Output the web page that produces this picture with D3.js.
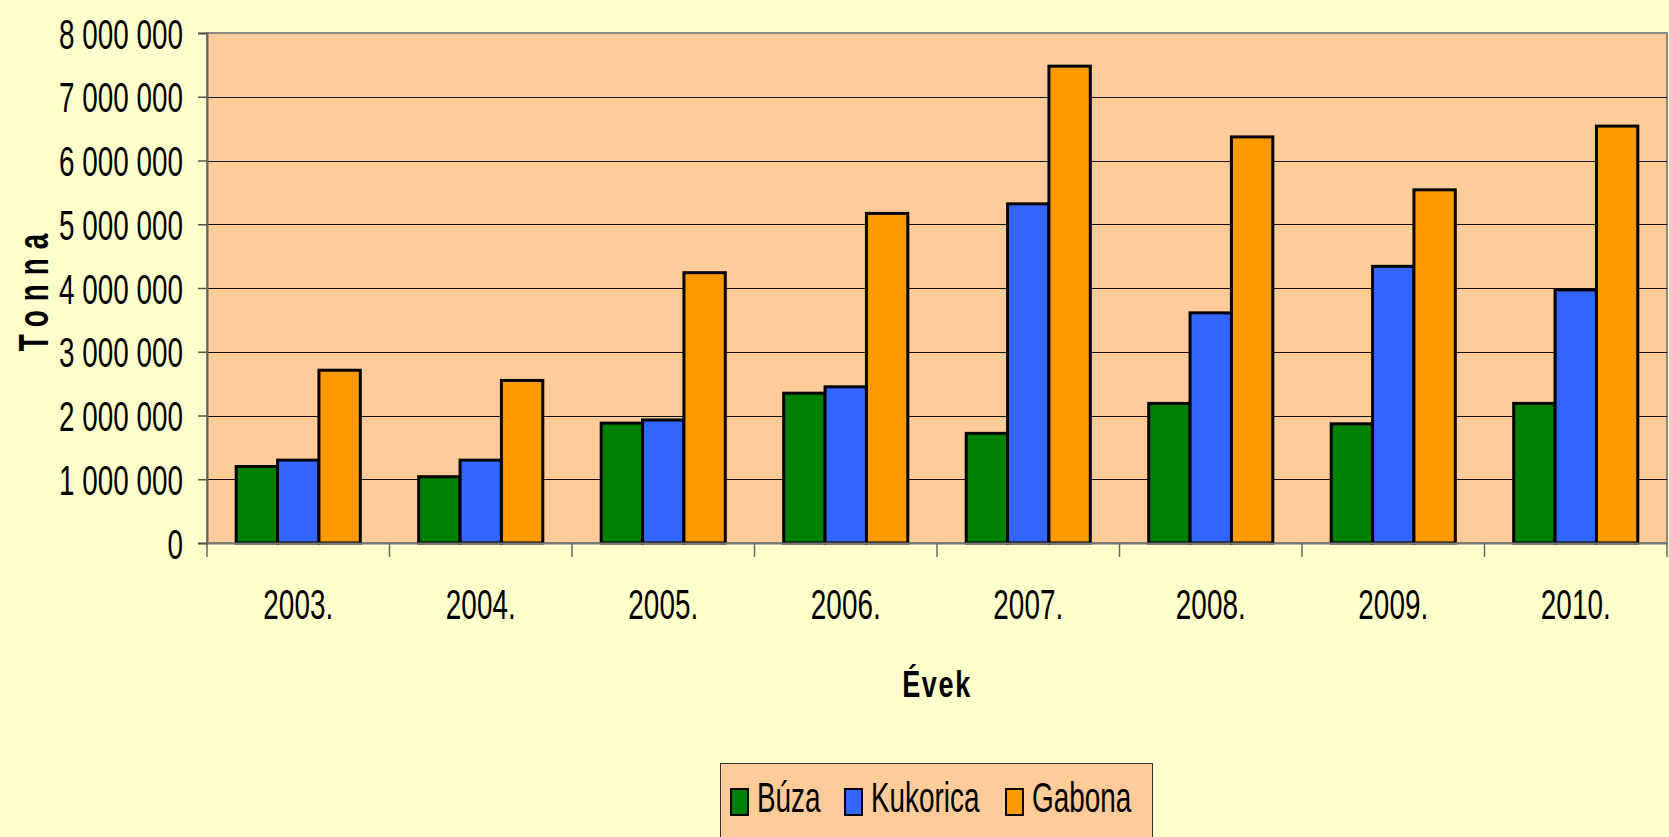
<!DOCTYPE html>
<html>
<head>
<meta charset="utf-8">
<script src="https://cdn.jsdelivr.net/npm/d3@7"></script>
<style>
  html, body { margin: 0; padding: 0; background: #FFFFCC; }
  svg { display: block; }
  text { font-family: "Liberation Sans Narrow", "Arial Narrow", "Liberation Sans", sans-serif; fill: #000; }
</style>
</head>
<body>
<svg width="1669" height="837"></svg>
<script>
// Chart data (tonnes)
const years = ['2003.', '2004.', '2005.', '2006.', '2007.', '2008.', '2009.', '2010.'];
const seriesNames = ['Búza', 'Kukorica', 'Gabona'];
const buza = [1200000, 1040000, 1880000, 2350000, 1720000, 2190000, 1870000, 2190000];
const kukorica = [1300000, 1300000, 1930000, 2450000, 5320000, 3610000, 4340000, 3970000];
const gabona = [2710000, 2550000, 4240000, 5170000, 7480000, 6370000, 5540000, 6540000];
const yTicks = [0, 1000000, 2000000, 3000000, 4000000, 5000000, 6000000, 7000000, 8000000];

const colors = {'Búza': '#008000', 'Kukorica': '#3366FF', 'Gabona': '#FF9900'};

const svg = d3.select('svg');
const plot = {left: 207, right: 1667, top: 33, bottom: 543};
// the original labels use a tall narrow face; squeeze the regular one
const sx = 0.82;
const sy = 1.25;

const rows = years.map((y, i) => ({year: y, 'Búza': buza[i], 'Kukorica': kukorica[i], 'Gabona': gabona[i]}));

const x0 = d3.scaleBand()
  .domain(years)
  .range([plot.left, plot.right]);

const x1 = d3.scaleBand()
  .domain(seriesNames)
  .range([x0.bandwidth() * 0.16, x0.bandwidth() * 0.84]);

const y = d3.scaleLinear()
  .domain([0, 8000000])
  .range([plot.bottom, plot.top]);

const fmt = d3.formatLocale({decimal: ',', thousands: ' ', grouping: [3], currency: ['', '']}).format(',');

// plot area background
svg.append('rect')
  .attr('x', plot.left)
  .attr('y', plot.top)
  .attr('width', plot.right - plot.left)
  .attr('height', plot.bottom - plot.top)
  .attr('fill', '#FFCC99')
  .attr('stroke', '#8a8a8a')
  .attr('stroke-width', 2);

// gridlines
svg.append('g')
  .selectAll('line')
  .data(yTicks.filter((d) => d > 0 && d < 8000000))
  .join('line')
    .attr('x1', plot.left)
    .attr('x2', plot.right)
    .attr('y1', (d) => Math.round(y(d)) + .5)
    .attr('y2', (d) => Math.round(y(d)) + .5)
    .attr('stroke', '#111')
    .attr('stroke-width', 1);

// y axis
const yAxis = d3.axisLeft(y)
  .tickValues(yTicks)
  .tickFormat(fmt)
  .tickSize(9)
  .tickPadding(0);

const yg = svg.append('g')
  .attr('transform', `translate(${plot.left}, 0)`)
  .call(yAxis);
yg.select('.domain').attr('stroke', '#666').attr('stroke-width', 2);
yg.selectAll('.tick line').attr('stroke', '#555').attr('stroke-width', 1.5);
yg.selectAll('.tick text')
  .attr('x', null).attr('dy', null).attr('y', null)
  .attr('font-size', 34)
  .attr('font-family', null)
  .attr('transform', `translate(-24, 15) scale(${sx}, ${sy})`);

// bars
svg.append('g')
  .selectAll('g')
  .data(rows)
  .join('g')
    .attr('transform', (d) => `translate(${x0(d.year)}, 0)`)
  .selectAll('rect')
  .data((d) => seriesNames.map((k) => ({key: k, value: d[k]})))
  .join('rect')
    .attr('x', (d) => x1(d.key))
    .attr('y', (d) => y(d.value))
    .attr('width', x1.bandwidth())
    .attr('height', (d) => y(0) - y(d.value))
    .attr('fill', (d) => colors[d.key])
    .attr('stroke', '#000')
    .attr('stroke-width', 3);

// x axis
const xAxis = d3.axisBottom(x0)
  .tickSize(0)
  .tickPadding(0);

const xg = svg.append('g')
  .attr('transform', `translate(0, ${plot.bottom})`)
  .call(xAxis);
xg.select('.domain').attr('stroke', '#777').attr('stroke-width', 2);
xg.selectAll('.tick text')
  .attr('y', null).attr('dy', null)
  .attr('font-size', 34)
  .attr('font-family', null)
  .attr('transform', `translate(0, 76) scale(${sx}, ${sy})`);

// category separators below the axis
xg.append('g')
  .selectAll('line')
  .data(years.concat(['end']))
  .join('line')
    .attr('x1', (d) => d === 'end' ? plot.right : x0(d))
    .attr('x2', (d) => d === 'end' ? plot.right : x0(d))
    .attr('y1', 0)
    .attr('y2', 14)
    .attr('stroke', '#666')
    .attr('stroke-width', 1.5);

// axis titles
svg.append('text')
  .attr('transform', `translate(${(plot.left + plot.right) / 2}, 697) scale(${sx}, 1.12)`)
  .attr('text-anchor', 'middle')
  .attr('font-size', 33)
  .attr('font-weight', 'bold')
  .attr('letter-spacing', 2)
  .text('Évek');

svg.append('text')
  .attr('transform', `translate(48, ${(plot.top + plot.bottom) / 2}) rotate(-90) scale(${sx}, ${sy})`)
  .attr('text-anchor', 'middle')
  .attr('font-size', 34)
  .attr('font-weight', 'bold')
  .attr('letter-spacing', 11)
  .text('Tonna');

// legend
const legend = svg.append('g');
legend.append('rect')
  .attr('x', 720.5)
  .attr('y', 763.5)
  .attr('width', 432)
  .attr('height', 90)
  .attr('fill', '#FFCC99')
  .attr('stroke', '#333')
  .attr('stroke-width', 1);

const legendX = [731, 845, 1006];
const items = legend.selectAll('g.item')
  .data(seriesNames)
  .join('g')
    .attr('class', 'item')
    .attr('transform', (d, i) => `translate(${legendX[i]}, 0)`);
items.append('rect')
  .attr('x', 0)
  .attr('y', 789)
  .attr('width', 17)
  .attr('height', 26)
  .attr('fill', (d) => colors[d])
  .attr('stroke', '#000')
  .attr('stroke-width', 2);
items.append('text')
  .attr('transform', `translate(26, 812) scale(${sx}, ${sy})`)
  .attr('font-size', 34)
  .text((d) => d);
</script>
</body>
</html>
